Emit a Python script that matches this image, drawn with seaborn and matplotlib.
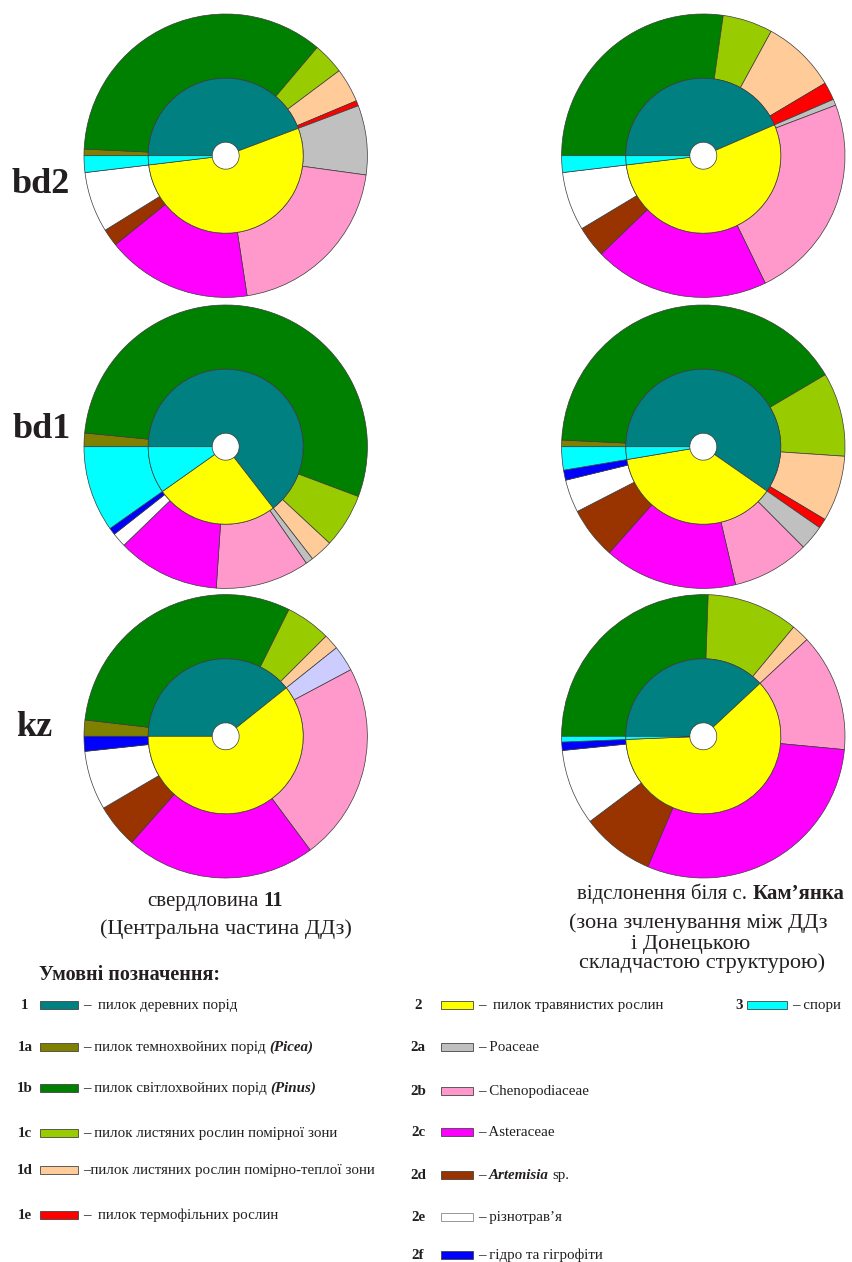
import matplotlib
matplotlib.use("Agg")
import pandas as pd
import seaborn as sns
import matplotlib.pyplot as plt
from matplotlib.patches import Rectangle

# canvas in pixels (dpi 100)
W, H = 853, 1262

# pollen subgroups, in drawing order (clockwise from 9 o'clock)
codes = ['1a', '1b', '1c', '1d', '1e', '2a', '2b', '2c', '2d', '2e', '2f', '3']
group_of = ['1', '1', '1', '1', '1', '2', '2', '2', '2', '2', '2', '3']

# percentages
bd2_well11 = [0.75, 35.4, 3.6, 3.9, 0.6, 7.9, 20.4, 16.6, 2.0, 6.9, 0.0, 1.9]
bd2_kamyanka = [0.0, 27.25, 5.7, 8.5, 2.05, 0.7, 23.6, 20.0, 3.6, 6.7, 0.0, 1.9]
bd1_well11 = [1.55, 54.2, 6.2, 2.6, 0.0, 0.85, 10.7, 11.7, 0.0, 1.65, 0.8, 9.8]
bd1_kamyanka = [0.75, 40.75, 9.55, 7.5, 1.1, 2.85, 8.8, 15.2, 5.9, 3.75, 1.15, 2.65]
kz_well11 = [1.85, 30.5, 5.15, 1.75, 0.0, 2.95, 22.6, 21.7, 5.0, 6.75, 1.7, 0.0]
kz_kamyanka = [0.0, 25.55, 10.45, 2.05, 0.0, 0.0, 13.45, 29.9, 8.35, 8.65, 0.95, 0.65]

row_labels = ['bd2', 'bd1', 'kz']

colors = {
    '1': '#008080', '1a': '#808000', '1b': '#008000', '1c': '#99CC00',
    '1d': '#FFCC99', '1e': '#FF0000',
    '2': '#FFFF00', '2a': '#C0C0C0', '2b': '#FF99CC', '2c': '#FF00FF',
    '2d': '#993300', '2e': '#FFFFFF', '2f': '#0000FF',
    '3': '#00FFFF',
}
# Poaceae is drawn lavender in the kz well-11 chart
kz_well11_colors = {'2a': '#CCCCFF'}

sns.set_style("white")
SERIF = ['Liberation Serif', 'DejaVu Serif']
plt.rcParams['font.family'] = SERIF

fig = plt.figure(figsize=(W / 100, H / 100), dpi=100)

# background axes in pixel coordinates, origin top-left
bg = fig.add_axes([0, 0, 1, 1])
bg.set_xlim(0, W)
bg.set_ylim(H, 0)
bg.axis('off')
renderer = fig.canvas.get_renderer()

R_OUT = 141.7
R_MID = 77.5 / R_OUT
R_HOLE = 13.5 / R_OUT
EDGE = '#3a3a3a'
TXT = '#231f20'


def draw_pie(cx, cy, values, override=None):
    pad = 3
    ax = fig.add_axes([(cx - R_OUT - pad) / W, (H - cy - R_OUT - pad) / H,
                       2 * (R_OUT + pad) / W, 2 * (R_OUT + pad) / H])
    cmap = dict(colors)
    if override:
        cmap.update(override)
    s = pd.Series(values, index=codes)
    inner = s.groupby(group_of).sum()
    outer = s[s > 0]
    inner = inner[inner > 0]
    ax.pie(outer.values, colors=[cmap[c] for c in outer.index], radius=1,
           startangle=180, counterclock=False,
           wedgeprops=dict(width=1 - R_MID, edgecolor=EDGE, linewidth=0.5))
    ax.pie(inner.values, colors=[cmap[c] for c in inner.index], radius=R_MID,
           startangle=180, counterclock=False,
           wedgeprops=dict(width=R_MID - R_HOLE, edgecolor=EDGE, linewidth=0.5))
    lim = (R_OUT + pad) / R_OUT
    ax.set_xlim(-lim, lim)
    ax.set_ylim(-lim, lim)
    ax.axis('off')


def rich_text(x, y, parts, size, ha='left'):
    # parts: (text, weight, style); spaces at the ends become explicit gaps
    space = size * 100 / 72 * 0.25
    items = []
    for txt, weight, style in parts:
        lead = len(txt) - len(txt.lstrip(' '))
        trail = len(txt) - len(txt.rstrip(' '))
        t = bg.text(0, y, txt.strip(' '), fontsize=size, fontweight=weight,
                    fontstyle=style, va='baseline', ha='left', color=TXT)
        w = t.get_window_extent(renderer=renderer).width
        items.append((t, lead * space, w, trail * space))
    total = sum(a + b + c for _, a, b, c in items)
    x0 = x - total / 2 if ha == 'center' else x
    for t, a, w, c in items:
        x0 += a
        t.set_x(x0)
        x0 += w + c


# pies
cols_x = [225.7, 703.3]
rows_y = [155.7, 446.7, 736.3]
draw_pie(cols_x[0], rows_y[0], bd2_well11)
draw_pie(cols_x[1], rows_y[0], bd2_kamyanka)
draw_pie(cols_x[0], rows_y[1], bd1_well11)
draw_pie(cols_x[1], rows_y[1], bd1_kamyanka)
draw_pie(cols_x[0], rows_y[2], kz_well11, kz_well11_colors)
draw_pie(cols_x[1], rows_y[2], kz_kamyanka)

# row labels
for lab, lx, ly in zip(row_labels, [12, 13, 16], [193, 438, 736]):
    bg.text(lx, ly, lab, fontsize=26, fontweight='bold', va='baseline', ha='left',
            color=TXT)

# column captions
CAP = 16
rich_text(215, 906, [('свердловина ', 'normal', 'normal'), ('11', 'bold', 'normal')], 15, 'center')
rich_text(226, 934, [('(Центральна частина ДДз)', 'normal', 'normal')], CAP, 'center')
rich_text(711, 899, [('відслонення біля с. ', 'normal', 'normal'), ('Кам’янка', 'bold', 'normal')], 15, 'center')
rich_text(698, 928, [('(зона зчленування між ДДз', 'normal', 'normal')], CAP, 'center')
rich_text(691, 949, [('і Донецькою', 'normal', 'normal')], CAP, 'center')
rich_text(702, 968, [('складчастою структурою)', 'normal', 'normal')], CAP, 'center')

# legend
bg.text(39, 980, 'Умовні позначення:', fontsize=14.5, fontweight='bold', va='baseline',
        color=TXT)

LEG = 10.8
N = ('normal', 'normal')
legend_left = [
    ('1', 1005, [('–  пилок деревних порід',) + N]),
    ('1a', 1047, [('– пилок темнохвойних порід ',) + N, ('(Picea)', 'bold', 'italic')]),
    ('1b', 1088, [('– пилок світлохвойних порід ',) + N, ('(Pinus)', 'bold', 'italic')]),
    ('1c', 1133, [('– пилок листяних рослин помірної зони',) + N]),
    ('1d', 1170, [('–пилок листяних рослин помірно-теплої зони',) + N]),
    ('1e', 1215, [('–  пилок термофільних рослин',) + N]),
]
legend_right = [
    ('2', 1005, [('–  пилок травянистих рослин',) + N]),
    ('2a', 1047, [('– Poaceae',) + N]),
    ('2b', 1091, [('– Chenopodiaceae',) + N]),
    ('2c', 1132, [('– Asteraceae',) + N]),
    ('2d', 1175, [('– ',) + N, ('Artemisia', 'bold', 'italic'), (' sp.',) + N]),
    ('2e', 1217, [('– різнотрав’я',) + N]),
    ('2f', 1255, [('– гідро та гігрофіти',) + N]),
]
legend_extra = [
    ('3', 1005, [('– спори',) + N]),
]


def legend_column(entries, code_x, box_x, box_w, text_x):
    for code, y, parts in entries:
        bg.text(code_x, y + 4, code, fontsize=LEG, fontweight='bold', va='baseline',
                ha='center', color=TXT)
        edge = '#888888' if code == '2e' else '#444444'
        bg.add_patch(Rectangle((box_x, y - 4), box_w, 8, facecolor=colors[code],
                               edgecolor=edge, linewidth=0.6))
        rich_text(text_x, y + 4, parts, LEG)


legend_column(legend_left, 25, 40, 38, 83)
legend_column(legend_right, 418, 441, 32, 478)
legend_column(legend_extra, 739, 747, 40, 792)

fig.savefig('out.png', dpi=100)
